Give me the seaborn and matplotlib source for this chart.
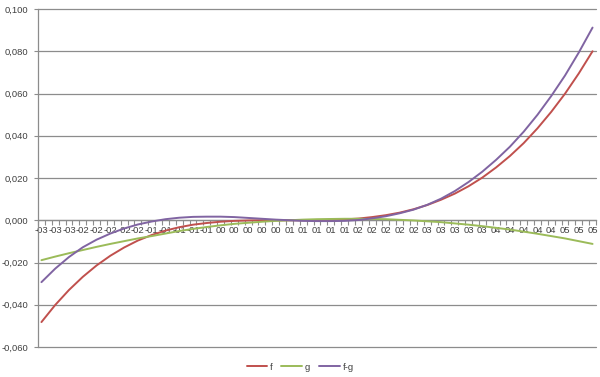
import numpy as np
import pandas as pd
import matplotlib
matplotlib.use("Agg")
import matplotlib.pyplot as plt
import seaborn as sns
from matplotlib.ticker import FixedLocator, FuncFormatter

# ---- data ----
x_vals = [-3.0, -2.8, -2.6, -2.4, -2.2, -2.0, -1.8, -1.6, -1.4, -1.2, -1.0,
          -0.8, -0.6, -0.4, -0.2, 0.0, 0.2, 0.4, 0.6, 0.8, 1.0,
          1.2, 1.4, 1.6, 1.8, 2.0, 2.2, 2.4, 2.6, 2.8, 3.0,
          3.2, 3.4, 3.6, 3.8, 4.0, 4.2, 4.4, 4.6, 4.8, 5.0]

x_labels = ["-03", "-03", "-03", "-02", "-02", "-02", "-02", "-02", "-01", "-01", "-01",
            "-01", "-01", "00", "00", "00", "00", "00", "01", "01", "01",
            "01", "01", "02", "02", "02", "02", "02", "03", "03", "03",
            "03", "03", "04", "04", "04", "04", "04", "05", "05", "05"]

f_vals = [-0.0482, -0.0401, -0.0330, -0.0268, -0.0214, -0.0168, -0.0129, -0.0096, -0.0070, -0.0049, -0.0033,
          -0.0021, -0.0013, -0.0007, -0.0003, -0.0001, 0.0000, 0.0000, 0.0000, 0.0000, 0.0001,
          0.0002, 0.0004, 0.0008, 0.0015, 0.0024, 0.0036, 0.0052, 0.0072, 0.0097, 0.0126,
          0.0161, 0.0202, 0.0250, 0.0304, 0.0365, 0.0435, 0.0513, 0.0599, 0.0695, 0.0800]

g_vals = [-0.0189, -0.0172, -0.0156, -0.0141, -0.0126, -0.0112, -0.0099, -0.0086, -0.0075, -0.0063, -0.0051,
          -0.0041, -0.0032, -0.0024, -0.0017, -0.0012, -0.0007, -0.0003, 0.0000, 0.0003, 0.0005,
          0.0006, 0.0007, 0.0007, 0.0006, 0.0005, 0.0002, -0.0001, -0.0005, -0.0009, -0.0015,
          -0.0021, -0.0028, -0.0036, -0.0044, -0.0054, -0.0064, -0.0075, -0.0086, -0.0099, -0.0112]

fg_vals = [-0.0293, -0.0229, -0.0174, -0.0128, -0.0092, -0.0063, -0.0039, -0.0020, -0.0006, 0.0005, 0.0012,
           0.0016, 0.0017, 0.0017, 0.0015, 0.0011, 0.0007, 0.0003, 0.0000, -0.0003, -0.0004,
           -0.0004, -0.0003, 0.0001, 0.0009, 0.0019, 0.0033, 0.0050, 0.0073, 0.0102, 0.0138,
           0.0181, 0.0230, 0.0286, 0.0348, 0.0419, 0.0499, 0.0588, 0.0685, 0.0794, 0.0912]

series_names = ["f", "g", "f-g"]
colors = {"f": "#C0504D", "g": "#9BBB59", "f-g": "#8064A2"}

n = len(x_vals)
df = pd.DataFrame({
    "x": x_vals * 3,
    "value": f_vals + g_vals + fg_vals,
    "series": ["f"] * n + ["g"] * n + ["f-g"] * n,
})

# ---- style ----
sns.set_style("white")
plt.rcParams["font.family"] = ["Liberation Sans", "DejaVu Sans"]
text_color = "#404040"
grid_color = "#8C8C8C"

fig = plt.figure(figsize=(6.0, 3.77), dpi=100)
ax = fig.add_axes([38 / 600, 1 - 347 / 377, (596 - 38) / 600, (347 - 9) / 377])

sns.lineplot(data=df, x="x", y="value", hue="series", hue_order=series_names,
             palette=colors, linewidth=1.4, ax=ax, legend=True, zorder=3)

# y axis
ax.set_ylim(-0.060, 0.100)
ax.yaxis.set_major_locator(FixedLocator([-0.06, -0.04, -0.02, 0.0, 0.02, 0.04, 0.06, 0.08, 0.10]))
ax.yaxis.set_major_formatter(FuncFormatter(lambda v, p: f"{v:.3f}".replace(".", ",")))
ax.yaxis.grid(True, color=grid_color, linewidth=0.9)
ax.set_axisbelow(True)
ax.tick_params(axis="y", which="major", direction="out", length=3, width=0.8,
               color=grid_color, labelsize=6.8, labelcolor=text_color, pad=4, left=True)

# x axis (category style, drawn at y=0)
ax.set_xlim(-3.05, 5.05)
ax.set_xticks(x_vals)
ax.set_xticklabels(x_labels)
ax.set_xticks(np.arange(-3.05, 5.0501, 0.1), minor=True)
ax.tick_params(axis="x", which="major", length=0, labelsize=6.8, labelcolor=text_color, pad=4)
ax.tick_params(axis="x", which="minor", direction="out", length=3.5, width=0.8,
               color=grid_color, bottom=True)
ax.xaxis.grid(False)

for side in ["top", "right"]:
    ax.spines[side].set_visible(False)
ax.spines["left"].set_color(grid_color)
ax.spines["left"].set_linewidth(0.9)
ax.spines["bottom"].set_position(("data", 0))
ax.spines["bottom"].set_color(grid_color)
ax.spines["bottom"].set_linewidth(0.9)
ax.spines["bottom"].set_zorder(2)

ax.set_xlabel("")
ax.set_ylabel("")

fig.canvas.draw()
for gl in ax.yaxis.get_gridlines():
    gl.set_clip_on(False)

handles, labels = ax.get_legend_handles_labels()
ax.get_legend().remove()
fig.legend(handles, labels, loc="center", bbox_to_anchor=(0.5, 10 / 377), ncol=3,
           frameon=False, fontsize=6.8, handlelength=2.2, handletextpad=0.3,
           columnspacing=0.9, labelcolor=text_color)

fig.savefig("out.png", dpi=100)
